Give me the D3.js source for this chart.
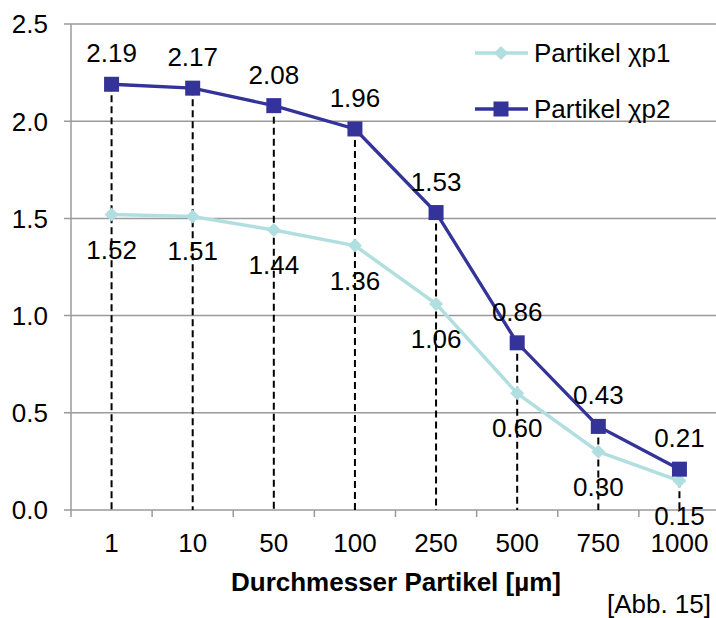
<!DOCTYPE html>
<html>
<head>
<meta charset="utf-8">
<script src="https://cdn.jsdelivr.net/npm/d3@7"></script>
<style>
  body { margin: 0; background: #fff; }
  svg { display: block; font-family: Arial, "Liberation Sans", sans-serif; }
</style>
</head>
<body>
<div id="chart"></div>
<script>
var categories = ['1', '10', '50', '100', '250', '500', '750', '1000']
var xp1 = [1.52, 1.51, 1.44, 1.36, 1.06, 0.60, 0.30, 0.15]
var xp2 = [2.19, 2.17, 2.08, 1.96, 1.53, 0.86, 0.43, 0.21]
var yTicks = [0, 0.5, 1.0, 1.5, 2.0, 2.5]
var seriesNames = ['Partikel χp1', 'Partikel χp2']

var width = 716, height = 618
var fontSize = 26

var svg = d3.select('#chart').append('svg')
    .attr('width', width)
    .attr('height', height)

var xScale = d3.scaleBand()
    .domain(categories)
    .range([71, 720])
    .padding(0)

var yScale = d3.scaleLinear()
    .domain([0, 2.5])
    .range([510, 24])

/* grid */
svg.append('g').selectAll('line')
    .data(yTicks).enter()
    .append('line')
    .attr('x1', 64).attr('x2', width)
    .attr('y1', d => yScale(d)).attr('y2', d => yScale(d))
    .style('stroke', '#9a9a9a')
    .style('stroke-width', 1.5)

// y axis line
svg.append('line')
    .attr('x1', 71).attr('x2', 71)
    .attr('y1', yScale(2.5)).attr('y2', 517)
    .style('stroke', '#9a9a9a')
    .style('stroke-width', 1.5)

// x tick marks at band edges
svg.append('g').selectAll('line')
    .data(categories.slice(1)).enter()
    .append('line')
    .attr('x1', d => xScale(d)).attr('x2', d => xScale(d))
    .attr('y1', 510).attr('y2', 517)
    .style('stroke', '#9a9a9a')
    .style('stroke-width', 1.5)

/* y labels */
svg.append('g').selectAll('text')
    .data(yTicks).enter()
    .append('text')
    .attr('x', 48)
    .attr('y', d => yScale(d))
    .attr('dy', '0.36em')
    .attr('text-anchor', 'end')
    .style('font-size', fontSize + 'px')
    .text(d => d.toFixed(1))

/* x labels */
var cx = d => xScale(d) + xScale.bandwidth() / 2
svg.append('g').selectAll('text')
    .data(categories).enter()
    .append('text')
    .attr('x', cx)
    .attr('y', 552)
    .attr('text-anchor', 'middle')
    .style('font-size', fontSize + 'px')
    .text(d => d)

svg.append('text')
    .attr('x', 396).attr('y', 591)
    .attr('text-anchor', 'middle')
    .style('font-size', fontSize + 'px')
    .style('font-weight', 'bold')
    .text('Durchmesser Partikel [µm]')

svg.append('text')
    .attr('x', 711).attr('y', 613)
    .attr('text-anchor', 'end')
    .style('font-size', fontSize + 'px')
    .text('[Abb. 15]')

/* dashed drop lines */
svg.append('g').selectAll('line')
    .data(categories).enter()
    .append('line')
    .attr('x1', cx).attr('x2', cx)
    .attr('y1', (d, i) => yScale(Math.max(xp1[i], xp2[i])))
    .attr('y2', yScale(0))
    .style('stroke', '#000')
    .style('stroke-width', 2)
    .style('stroke-dasharray', '7,4')

var line = d3.line()
    .x((d, i) => cx(categories[i]))
    .y(d => yScale(d))

var col1 = '#b1dfe0', col2 = '#333399'

// square rotated 45deg, like the spreadsheet marker
var diamondPath = 'M0,-7L7,0L0,7L-7,0Z'

svg.append('path')
    .attr('d', line(xp1))
    .style('fill', 'none')
    .style('stroke', col1)
    .style('stroke-width', 3.5)

svg.append('g').selectAll('path')
    .data(xp1).enter()
    .append('path')
    .attr('d', diamondPath)
    .attr('transform', (d, i) => 'translate(' + cx(categories[i]) + ',' + yScale(d) + ')')
    .style('fill', col1)

svg.append('path')
    .attr('d', line(xp2))
    .style('fill', 'none')
    .style('stroke', col2)
    .style('stroke-width', 3.3)

svg.append('g').selectAll('rect')
    .data(xp2).enter()
    .append('rect')
    .attr('x', (d, i) => cx(categories[i]) - 7.5)
    .attr('y', d => yScale(d) - 7.5)
    .attr('width', 15).attr('height', 15)
    .style('fill', col2)

/* value labels */
svg.append('g').selectAll('text')
    .data(xp2).enter()
    .append('text')
    .attr('x', (d, i) => cx(categories[i]))
    .attr('y', d => yScale(d) - 22)
    .attr('text-anchor', 'middle')
    .style('font-size', fontSize + 'px')
    .text(d => d.toFixed(2))

svg.append('g').selectAll('text')
    .data(xp1).enter()
    .append('text')
    .attr('x', (d, i) => cx(categories[i]))
    .attr('y', d => yScale(d) + 44)
    .attr('text-anchor', 'middle')
    .style('font-size', fontSize + 'px')
    .text(d => d.toFixed(2))

/* legend */
var legend = svg.append('g')
var legRows = [
    { name: seriesNames[0], color: col1, y: 53, sym: 'diamond' },
    { name: seriesNames[1], color: col2, y: 109, sym: 'square' }
]
legRows.forEach(r => {
    legend.append('line')
        .attr('x1', 475).attr('x2', 528)
        .attr('y1', r.y).attr('y2', r.y)
        .style('stroke', r.color)
        .style('stroke-width', 3.3)
    if (r.sym == 'diamond') {
        legend.append('path')
            .attr('d', diamondPath)
            .attr('transform', 'translate(501,' + r.y + ')')
            .style('fill', r.color)
    } else {
        legend.append('rect')
            .attr('x', 493.5).attr('y', r.y - 7.5)
            .attr('width', 15).attr('height', 15)
            .style('fill', r.color)
    }
    legend.append('text')
        .attr('x', 534).attr('y', r.y)
        .attr('dy', '0.36em')
        .style('font-size', fontSize + 'px')
        .text(r.name)
})
</script>
</body>
</html>
